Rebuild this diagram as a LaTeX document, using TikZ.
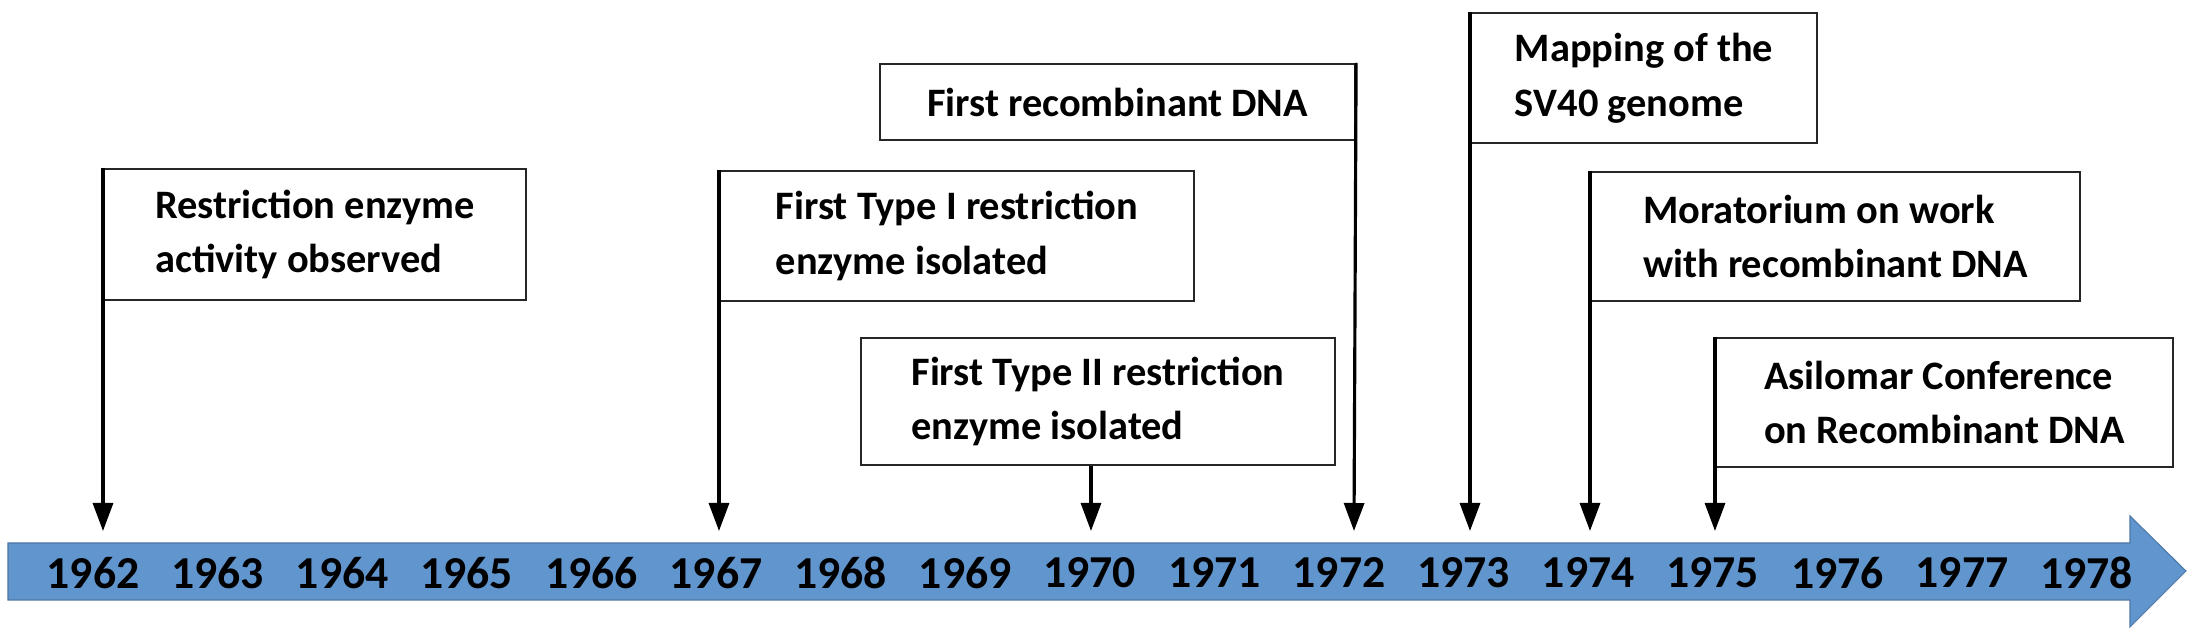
\documentclass[tikz,border=0pt]{standalone}
\usepackage{fontspec}
\setmainfont{Carlito}
\usetikzlibrary{arrows.meta}
\usetikzlibrary{positioning}
\definecolor{band}{RGB}{96,149,206}

\begin{document}
\begin{tikzpicture}[x=0.1mm,y=-0.1mm]
\tikzstyle{evt}=[draw=black!85,line width=0.6pt,fill=white,align=left,inner xsep=0.18cm,
  font=\fontsize{11.5}{15.5}\selectfont\bfseries,anchor=north west]
\tikzstyle{yr}=[font=\fontsize{13}{15}\selectfont\bfseries]
\tikzstyle{pin}=[line width=0.9pt,-{Triangle[length=0.28cm,width=0.2cm]}]
\useasboundingbox (0,0) rectangle (2199,641);

% time band
\fill[band,draw=band!80!black,line width=0.3pt] (8,543) -- (2130,543) -- (2130,516) -- (2186,571)
  -- (2130,627) -- (2130,600) -- (8,600) -- cycle;
\foreach \i in {0,...,16} {
  \pgfmathtruncatemacro{\yy}{1962+\i}
  \node[yr] (Y\yy) at (93+124.6*\i,573) {\yy};
}
\coordinate (T62) at (103,531);
\coordinate (T67) at (719,531);
\coordinate (T70) at (1091,531);
\coordinate (T72) at (1354,531);
\coordinate (T73) at (1470,531);
\coordinate (T74) at (1590,531);
\coordinate (T75) at (1715,531);

% events
\node[evt,minimum width=4.22cm,minimum height=1.31cm] (E62) at (103,168)
  {Restriction enzyme\\activity observed};
\node[evt,minimum width=4.74cm,minimum height=1.30cm] (E67) at (719,170)
  {First Type I restriction\\enzyme isolated};
\node[evt,minimum width=4.75cm,minimum height=0.76cm] (E72) at (879,63)
  {First recombinant DNA};
\node[evt,minimum width=4.74cm,minimum height=1.27cm] (E70) at (860,337)
  {First Type II restriction\\enzyme isolated};
\node[evt,minimum width=3.46cm,minimum height=1.30cm] (E73) at (1470,12)
  {Mapping of the\\SV40 genome};
\node[evt,minimum width=4.89cm,minimum height=1.29cm] (E74) at (1590,171)
  {Moratorium on work\\with recombinant DNA};
\node[evt,minimum width=4.57cm,minimum height=1.29cm] (E75) at (1715,337)
  {Asilomar Conference\\on Recombinant DNA};

% pointers
\draw[pin] (E62.north west) -- (T62);
\draw[pin] (E67.north west) -- (T67);
\draw[pin] (E70.south -| T70) -- (T70);
\draw[pin] (E72.north east) -- (T72);
\draw[pin] (E73.north west) -- (T73);
\draw[pin] (E74.north west) -- (T74);
\draw[pin] (E75.north west) -- (T75);
\end{tikzpicture}
\end{document}
